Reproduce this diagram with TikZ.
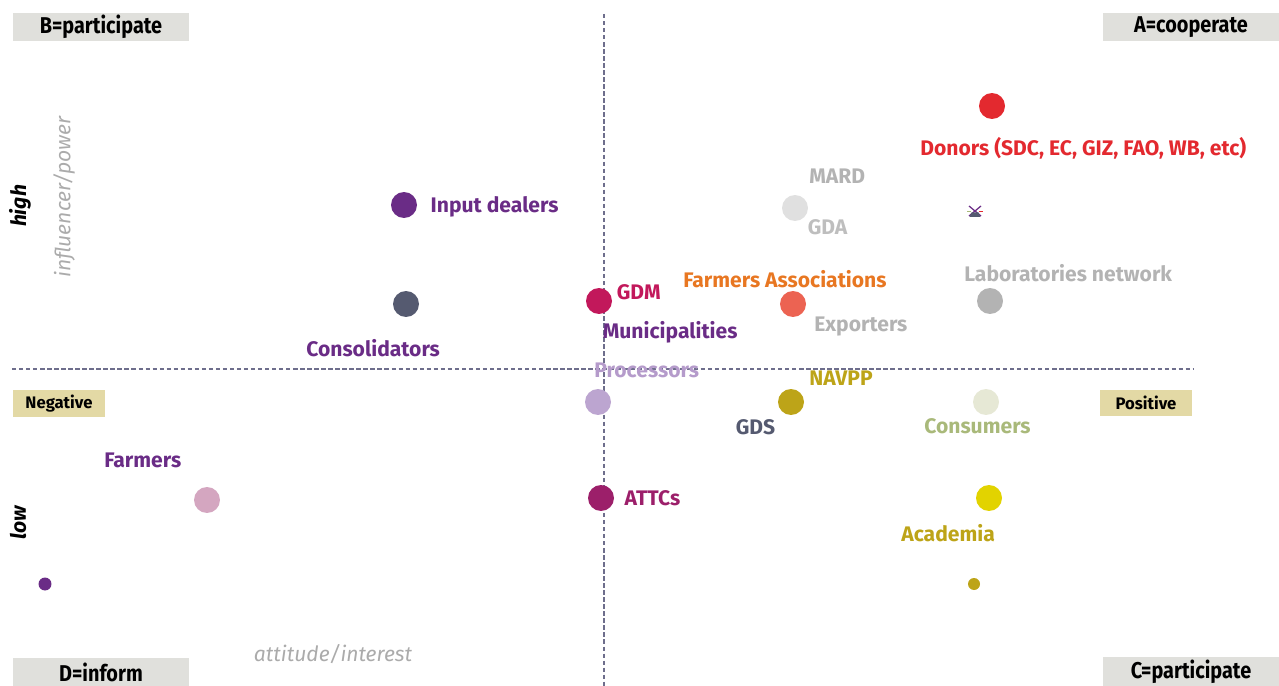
\documentclass[tikz,border=0pt]{standalone}
\usepackage{fontspec}
\setmainfont{Fira Sans}
\newfontfamily\condfont{Fira Sans Bold}[FakeStretch=0.87]
\usetikzlibrary{positioning}

\definecolor{donorred}{HTML}{E3292F}
\definecolor{inputpurple}{HTML}{6A2C86}
\definecolor{slate}{HTML}{555A70}
\definecolor{gdmred}{HTML}{C2185B}
\definecolor{palegrey}{HTML}{E0E0E0}
\definecolor{midgrey}{HTML}{B3B3B3}
\definecolor{coral}{HTML}{EC6352}
\definecolor{assocorange}{HTML}{E87722}
\definecolor{lilac}{HTML}{BCA5D0}
\definecolor{lilactext}{HTML}{B59BCB}
\definecolor{gold}{HTML}{BDA418}
\definecolor{cream}{HTML}{E6E8D5}
\definecolor{sage}{HTML}{A9B97A}
\definecolor{mauve}{HTML}{D4A6C0}
\definecolor{plum}{HTML}{9C1F6A}
\definecolor{lemon}{HTML}{E2D300}
\definecolor{boxgrey}{HTML}{E0E0DC}
\definecolor{khaki}{HTML}{E3D9A5}
\definecolor{axisgrey}{HTML}{6E6E8C}
\definecolor{titlegrey}{HTML}{ABABAB}

\begin{document}
\begin{tikzpicture}[
    x=0.02cm, y=-0.02cm,
    dot/.style={circle, fill=#1, inner sep=0pt, minimum size=0.52cm},
    lbl/.style={anchor=west, inner sep=0pt, text height=0.69em, text depth=0pt, yshift=-0.035cm, font=\bfseries\fontsize{12}{14}\selectfont, text=#1},
    quad/.style={fill=boxgrey, inner sep=0pt, minimum width=3.52cm, minimum height=0.58cm, font=\condfont\fontsize{13}{15}\selectfont},
    side/.style={fill=khaki, inner sep=0pt, minimum width=1.84cm, minimum height=0.53cm, font=\bfseries\fontsize{9.5}{11}\selectfont},
    axis/.style={draw=axisgrey, line width=0.6pt, dash pattern=on 2.5pt off 1.5pt},
    axistitle/.style={inner sep=0pt, text=titlegrey, font=\itshape\fontsize{12}{14}\selectfont},
    level/.style={inner sep=0pt, rotate=90, font=\bfseries\itshape\fontsize{12}{14}\selectfont}
]
\useasboundingbox (0,0) rectangle (1279,686);

% Quadrant axes
\coordinate (vtop) at (604,14);
\coordinate (vbot) at (604,686);
\coordinate (hleft) at (12,369);
\coordinate (hright) at (1193,369);
\draw[axis] (vtop) -- (vbot);
\draw[axis] (hleft) -- (hright);

% Quadrant boxes
\node[quad] (qB) at (101,27) {B=participate};
\node[quad] (qA) at (1191,27) {A=cooperate};
\node[quad] (qD) at (101,672) {D=inform};
\node[quad] (qC) at (1191,671.5) {C=participate};
\node[side] (neg) at (59,403.5) {Negative};
\node[side] (pos) at (1146,403) {Positive};

% Axis titles
\node[axistitle] (attit) at (333,654) {attitude/interest};
\node[axistitle, rotate=90] (power) at (64,197) {influencer/power};
\node[level] (high) at (20,206) {high};
\node[level] (low) at (18,523) {low};

% Stakeholders
\node[dot=donorred] (donor) at (992,106) {};
\node[dot=inputpurple] (inpd) at (404,205) {};
\node[dot=slate] (consol) at (406,304) {};
\node[dot=gdmred] (gdm) at (599,301) {};
\node[dot=palegrey] (mard) at (795,208) {};
\node[dot=coral] (assoc) at (793,304) {};
\node[dot=midgrey] (labs) at (990,301) {};
\node[dot=lilac] (proc) at (598,402) {};
\node[dot=gold] (gds) at (791,402) {};
\node[dot=cream] (cons) at (986,402) {};
\node[dot=mauve] (farm) at (207,500) {};
\node[dot=plum] (attc) at (601,498) {};
\node[dot=lemon] (acad) at (989,498) {};
\node[circle, fill=inputpurple, inner sep=0pt, minimum size=0.26cm] (smallp) at (45,584) {};
\node[circle, fill=gold, inner sep=0pt, minimum size=0.24cm] (smallg) at (974,584) {};

% Little marker beside the donors
\draw[inputpurple, line width=0.7pt] (969,206) -- (981,216) (981,206) -- (969,216);
\fill[slate] (969.5,217) -- (980.5,217) -- (978.5,212.5) -- (971.5,212.5) -- cycle;
\draw[sage, line width=0.7pt] (967,211.5) -- (971,211.5);
\draw[donorred, line width=0.7pt] (979,211.5) -- (983,211.5);

% Labels
\node[lbl=donorred] (tdonor) at (920,147.5) {Donors (SDC, EC, GIZ, FAO, WB, etc)};
\node[lbl=midgrey] (tmard) at (809,176) {MARD};
\node[lbl=palegrey!85!black] (tgda) at (807.5,227) {GDA};
\node[lbl=inputpurple, right=0.26cm of inpd] (tinpd) {Input dealers};
\node[lbl=inputpurple] (tconsol) at (306,349) {Consolidators};
\node[lbl=gdmred] (tgdm) at (616.5,292) {GDM};
\node[lbl=assocorange] (tassoc) at (683,280) {Farmers Associations};
\node[lbl=inputpurple] (tmuni) at (602.5,330.5) {Municipalities};
\node[lbl=midgrey] (texp) at (814,324) {Exporters};
\node[lbl=midgrey] (tlabs) at (964,274) {Laboratories network};
\node[lbl=lilactext] (tproc) at (594,370) {Processors};
\node[lbl=gold] (tnavpp) at (809,378) {NAVPP};
\node[lbl=slate] (tgds) at (735.5,427) {GDS};
\node[lbl=sage] (tcons) at (924,425.5) {Consumers};
\node[lbl=inputpurple] (tfarm) at (104,459.5) {Farmers};
\node[lbl=plum, right=0.2cm of attc] (tattc) {ATTCs};
\node[lbl=gold] (tacad) at (901,533.5) {Academia};

\end{tikzpicture}
\end{document}
